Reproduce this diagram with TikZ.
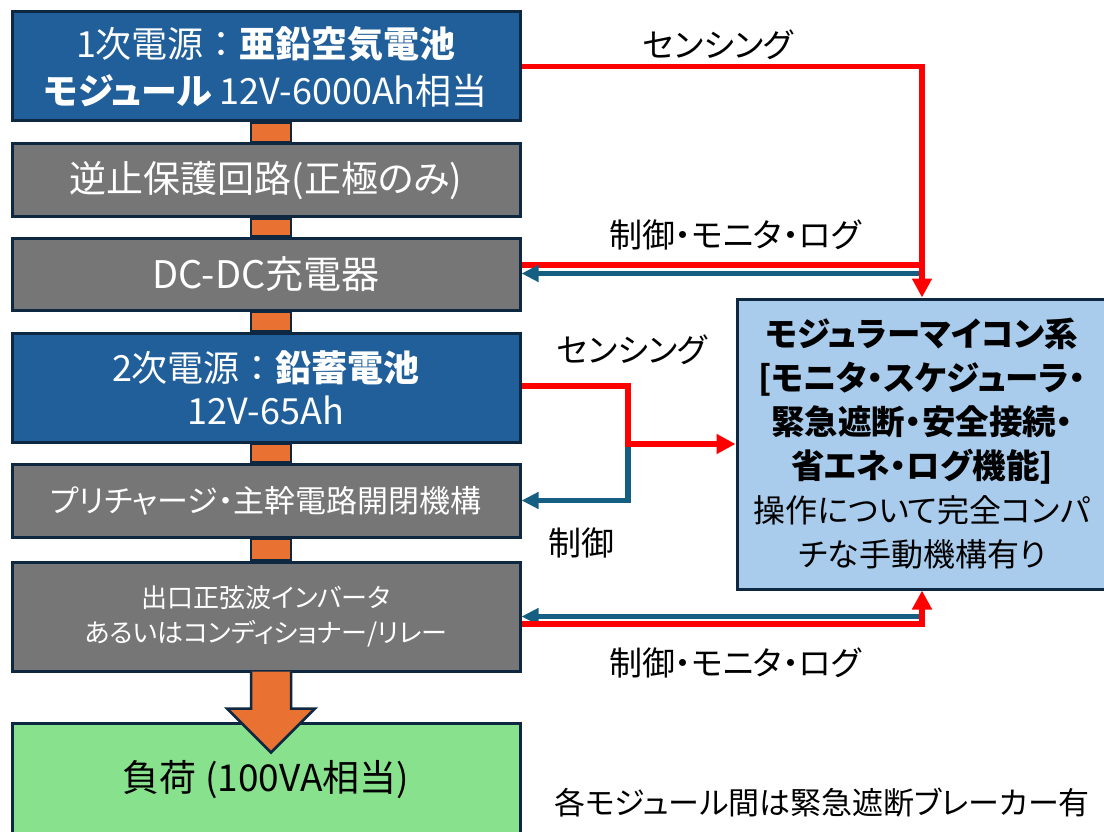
\documentclass[tikz,border=0pt]{standalone}
\usepackage{fontspec}
\setmainfont{Noto Sans CJK JP}[RawFeature=+palt]
\newfontfamily\jpfw{Noto Sans CJK JP}
\usetikzlibrary{arrows.meta,backgrounds}
\definecolor{bdr}{HTML}{0E2841}
\definecolor{boxblue}{HTML}{215F9A}
\definecolor{boxgray}{HTML}{767676}
\definecolor{boxgreen}{HTML}{88E18C}
\definecolor{boxlight}{HTML}{A9CCEC}
\definecolor{orng}{HTML}{E97132}
\definecolor{ctlblue}{HTML}{156082}
\definecolor{snsred}{HTML}{FF0000}
\begin{document}
\begin{tikzpicture}[x=1pt,y=-1pt,
  box/.style={draw=bdr, line width=3pt, inner sep=0pt, minimum width=508pt, text=white, align=center},
  bluebox/.style={box, fill=boxblue, font=\fontsize{36}{47}\selectfont},
  graybox/.style={box, fill=boxgray},
  bar/.style={draw=bdr, fill=orng, line width=2.5pt},
  redln/.style={draw=snsred, line width=5.5pt, line join=miter},
  redarr/.style={redln, -{Triangle[width=19pt,length=19pt]}},
  bluearr/.style={draw=ctlblue, line width=5.5pt, line join=miter, -{Triangle[width=16pt,length=17pt]}},
  lbl/.style={inner sep=0pt, text=black, font=\fontsize{33}{40}\selectfont}]
\useasboundingbox (0,0) rectangle (1104,832);

% left column
\node[bluebox, minimum height=109pt] (b1) at (266,66.5)
  {1次電源{\jpfw ：}\textbf{亜鉛空気電池}\\\textbf{モジュール} 12V-6000Ah相当};
\node[graybox, minimum height=73pt, font=\fontsize{37}{44}\selectfont] (b2) at (266,180.5) {逆止保護回路(正極のみ)};
\node[graybox, minimum height=72pt, font=\fontsize{38}{44}\selectfont] (b3) at (266,274) {DC-DC充電器};
\node[bluebox, minimum height=109pt, font=\fontsize{36}{43}\selectfont] (b4) at (266,387.5)
  {2次電源{\jpfw ：}\textbf{鉛蓄電池}\\12V-65Ah};
\node[graybox, minimum height=73pt, font=\fontsize{31}{40}\selectfont] (b5) at (266,500.5) {プリチャージ・主幹電路開閉機構};
\node[graybox, minimum height=109pt, font=\fontsize{26}{35}\selectfont] (b6) at (266,616.5)
  {出口正弦波インバータ\\あるいはコンディショナー/リレー};
\node[box, fill=boxgreen, text=black, minimum height=113pt, font=\fontsize{37}{40}\selectfont] (b7) at (266,779.5) {負荷 (100VA相当)};

% controller
\node[draw=bdr, line width=3pt, fill=boxlight, inner sep=0pt, minimum width=370pt, minimum height=290pt,
      align=center, font=\fontsize{33.5}{44}\selectfont] (rb) at (922,444)
  {\textbf{モジュラーマイコン系}\\\textbf{[モニタ・スケジューラ・}\\\textbf{緊急遮断・安全接続・}\\\textbf{省エネ・ログ機能]}\\{\fontsize{32}{42}\selectfont 操作について完全コンパ}\\{\fontsize{32}{42}\selectfont チな手動機構有り}};

% orange power bars
\begin{scope}[on background layer]
  \draw[bar] ([xshift=-15pt]b1.south) rectangle ([xshift=25pt]b2.north);
  \draw[bar] ([xshift=-15pt]b2.south) rectangle ([xshift=25pt]b3.north);
  \draw[bar] ([xshift=-15pt]b3.south) rectangle ([xshift=25pt]b4.north);
  \draw[bar] ([xshift=-15pt]b4.south) rectangle ([xshift=25pt]b5.north);
  \draw[bar] ([xshift=-15pt]b5.south) rectangle ([xshift=25pt]b6.north);
\end{scope}
% big arrow to load
\draw[draw=bdr, fill=orng, line width=2.5pt, line join=miter]
  ([xshift=-15pt,yshift=1pt]b6.south) -- ++(0,37) -- ++(-24,0) -- ++(44,44) -- ++(44,-44) -- ++(-24,0) -- ++(0,-37);

% sensing / control links
\draw[redarr] (b1.east) -| (rb.north);
\draw[redln] ([yshift=9pt]b3.east) -- ([yshift=9pt]b3.east -| rb.north);
\draw[bluearr] ([xshift=-3.5pt,yshift=0.5pt]b3.east -| rb.north) -- ([yshift=0.5pt]b3.east);

\coordinate (j1) at (628,444);
\draw[bluearr] (j1) |- (b5.east);
\draw[redarr] ([yshift=1.5pt]b4.east) -| (j1) -- (rb.west);

\draw[bluearr] ([xshift=-3.5pt]b6.east -| rb.south) -- (b6.east);
\draw[redarr] ([yshift=-7.5pt]b6.east) -| (rb.south);

% labels
\node[lbl] (l1) at (718,45) {センシング};
\node[lbl] (l2) at (735,235) {制御・モニタ・ログ};
\node[lbl] (l3) at (632,350) {センシング};
\node[lbl] (l4) at (581,543) {制御};
\node[lbl] (l5) at (735,663) {制御・モニタ・ログ};
\node[lbl, font=\fontsize{31}{40}\selectfont] (l6) at (822,803) {各モジュール間は緊急遮断ブレーカー有};
\end{tikzpicture}
\end{document}
